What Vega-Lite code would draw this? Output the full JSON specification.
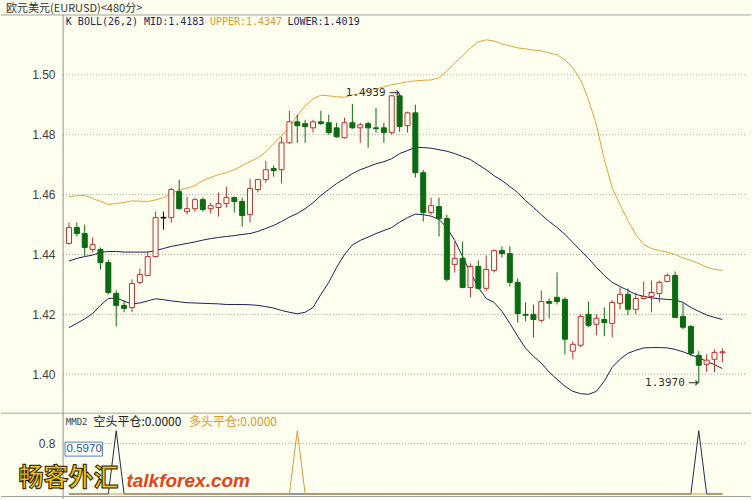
{
  "$schema": "https://vega.github.io/schema/vega-lite/v6.json",
  "width": 752,
  "height": 500,
  "autosize": {"type": "fit", "contains": "padding"},
  "padding": 0,
  "background": "#fffff0",
  "config": {
    "view": {"stroke": null},
    "axis": {
      "labelFont": "Liberation Sans",
      "labelFontSize": 12,
      "labelColor": "#404040",
      "ticks": false,
      "domain": false,
      "grid": false,
      "title": null,
      "offset": -58,
      "minExtent": 0,
      "maxExtent": 0,
      "labelPadding": 4
    }
  },
  "datasets": {
    "k": [
      {"i":0,"o":1.4437,"h":1.4507,"l":1.4433,"c":1.4490,"d":"up","up":1.4594,"mid":1.4378,"lo":1.4156,"s":0,"b":0},
      {"i":1,"o":1.4490,"h":1.4507,"l":1.4460,"c":1.4470,"d":"down","up":1.4596,"mid":1.4387,"lo":1.4170,"s":0,"b":0},
      {"i":2,"o":1.4470,"h":1.4500,"l":1.4393,"c":1.4423,"d":"down","up":1.4597,"mid":1.4393,"lo":1.4185,"s":0,"b":0},
      {"i":3,"o":1.4417,"h":1.4457,"l":1.4407,"c":1.4433,"d":"up","up":1.4587,"mid":1.4398,"lo":1.4203,"s":0,"b":0},
      {"i":4,"o":1.4417,"h":1.4423,"l":1.4350,"c":1.4373,"d":"down","up":1.4577,"mid":1.4407,"lo":1.4230,"s":0,"b":0},
      {"i":5,"o":1.4373,"h":1.4383,"l":1.4267,"c":1.4273,"d":"down","up":1.4567,"mid":1.4410,"lo":1.4253,"s":0,"b":0},
      {"i":6,"o":1.4270,"h":1.4280,"l":1.4160,"c":1.4230,"d":"down","up":1.4570,"mid":1.4410,"lo":1.4255,"s":1,"b":0},
      {"i":7,"o":1.4230,"h":1.4247,"l":1.4207,"c":1.4220,"d":"down","up":1.4574,"mid":1.4408,"lo":1.4244,"s":0,"b":0},
      {"i":8,"o":1.4223,"h":1.4317,"l":1.4207,"c":1.4303,"d":"up","up":1.4579,"mid":1.4408,"lo":1.4235,"s":0,"b":0},
      {"i":9,"o":1.4307,"h":1.4353,"l":1.4300,"c":1.4333,"d":"up","up":1.4578,"mid":1.4408,"lo":1.4238,"s":0,"b":0},
      {"i":10,"o":1.4330,"h":1.4410,"l":1.4327,"c":1.4393,"d":"up","up":1.4577,"mid":1.4408,"lo":1.4245,"s":0,"b":0},
      {"i":11,"o":1.4393,"h":1.4543,"l":1.4390,"c":1.4523,"d":"up","up":1.4582,"mid":1.4413,"lo":1.4252,"s":0,"b":0},
      {"i":12,"o":1.4524,"h":1.4543,"l":1.4483,"c":1.4522,"d":"flat","up":1.4590,"mid":1.4420,"lo":1.4249,"s":0,"b":0},
      {"i":13,"o":1.4523,"h":1.4623,"l":1.4507,"c":1.4617,"d":"up","up":1.4605,"mid":1.4427,"lo":1.4245,"s":0,"b":0},
      {"i":14,"o":1.4610,"h":1.4650,"l":1.4550,"c":1.4553,"d":"down","up":1.4615,"mid":1.4432,"lo":1.4242,"s":0,"b":0},
      {"i":15,"o":1.4543,"h":1.4593,"l":1.4533,"c":1.4553,"d":"up","up":1.4622,"mid":1.4437,"lo":1.4239,"s":0,"b":0},
      {"i":16,"o":1.4553,"h":1.4590,"l":1.4543,"c":1.4583,"d":"up","up":1.4630,"mid":1.4442,"lo":1.4238,"s":0,"b":0},
      {"i":17,"o":1.4583,"h":1.4590,"l":1.4543,"c":1.4550,"d":"down","up":1.4647,"mid":1.4448,"lo":1.4237,"s":0,"b":0},
      {"i":18,"o":1.4553,"h":1.4573,"l":1.4537,"c":1.4563,"d":"up","up":1.4657,"mid":1.4453,"lo":1.4236,"s":0,"b":0},
      {"i":19,"o":1.4557,"h":1.4607,"l":1.4527,"c":1.4570,"d":"up","up":1.4667,"mid":1.4457,"lo":1.4235,"s":0,"b":0},
      {"i":20,"o":1.4570,"h":1.4627,"l":1.4557,"c":1.4590,"d":"up","up":1.4673,"mid":1.4460,"lo":1.4233,"s":0,"b":0},
      {"i":21,"o":1.4590,"h":1.4593,"l":1.4540,"c":1.4577,"d":"down","up":1.4683,"mid":1.4463,"lo":1.4233,"s":0,"b":0},
      {"i":22,"o":1.4577,"h":1.4590,"l":1.4493,"c":1.4530,"d":"down","up":1.4697,"mid":1.4467,"lo":1.4233,"s":0,"b":0},
      {"i":23,"o":1.4533,"h":1.4653,"l":1.4507,"c":1.4620,"d":"up","up":1.4710,"mid":1.4470,"lo":1.4232,"s":0,"b":0},
      {"i":24,"o":1.4617,"h":1.4653,"l":1.4607,"c":1.4650,"d":"up","up":1.4723,"mid":1.4477,"lo":1.4230,"s":0,"b":0},
      {"i":25,"o":1.4650,"h":1.4713,"l":1.4640,"c":1.4683,"d":"up","up":1.4743,"mid":1.4487,"lo":1.4226,"s":0,"b":0},
      {"i":26,"o":1.4687,"h":1.4697,"l":1.4660,"c":1.4680,"d":"down","up":1.4770,"mid":1.4497,"lo":1.4221,"s":0,"b":0},
      {"i":27,"o":1.4683,"h":1.4793,"l":1.4637,"c":1.4773,"d":"up","up":1.4797,"mid":1.4510,"lo":1.4213,"s":0,"b":0},
      {"i":28,"o":1.4773,"h":1.4880,"l":1.4770,"c":1.4843,"d":"up","up":1.4827,"mid":1.4525,"lo":1.4207,"s":0,"b":0},
      {"i":29,"o":1.4843,"h":1.4867,"l":1.4773,"c":1.4830,"d":"down","up":1.4863,"mid":1.4537,"lo":1.4202,"s":0,"b":1},
      {"i":30,"o":1.4837,"h":1.4850,"l":1.4773,"c":1.4827,"d":"down","up":1.4897,"mid":1.4553,"lo":1.4207,"s":0,"b":0},
      {"i":31,"o":1.4823,"h":1.4850,"l":1.4807,"c":1.4843,"d":"up","up":1.4920,"mid":1.4573,"lo":1.4223,"s":0,"b":0},
      {"i":32,"o":1.4843,"h":1.4880,"l":1.4833,"c":1.4837,"d":"down","up":1.4932,"mid":1.4597,"lo":1.4267,"s":0,"b":0},
      {"i":33,"o":1.4840,"h":1.4867,"l":1.4800,"c":1.4807,"d":"down","up":1.4930,"mid":1.4617,"lo":1.4307,"s":0,"b":0},
      {"i":34,"o":1.4823,"h":1.4840,"l":1.4790,"c":1.4793,"d":"down","up":1.4927,"mid":1.4637,"lo":1.4357,"s":0,"b":0},
      {"i":35,"o":1.4790,"h":1.4857,"l":1.4787,"c":1.4840,"d":"up","up":1.4925,"mid":1.4653,"lo":1.4400,"s":0,"b":0},
      {"i":36,"o":1.4840,"h":1.4903,"l":1.4820,"c":1.4823,"d":"down","up":1.4933,"mid":1.4670,"lo":1.4432,"s":0,"b":0},
      {"i":37,"o":1.4823,"h":1.4840,"l":1.4773,"c":1.4833,"d":"up","up":1.4937,"mid":1.4683,"lo":1.4447,"s":0,"b":0},
      {"i":38,"o":1.4837,"h":1.4843,"l":1.4757,"c":1.4823,"d":"down","up":1.4947,"mid":1.4693,"lo":1.4458,"s":0,"b":0},
      {"i":39,"o":1.4823,"h":1.4890,"l":1.4807,"c":1.4820,"d":"down","up":1.4953,"mid":1.4703,"lo":1.4470,"s":0,"b":0},
      {"i":40,"o":1.4823,"h":1.4840,"l":1.4773,"c":1.4807,"d":"down","up":1.4960,"mid":1.4710,"lo":1.4480,"s":0,"b":0},
      {"i":41,"o":1.4807,"h":1.4933,"l":1.4800,"c":1.4930,"d":"up","up":1.4967,"mid":1.4720,"lo":1.4490,"s":0,"b":0},
      {"i":42,"o":1.4930,"h":1.4939,"l":1.4810,"c":1.4827,"d":"down","up":1.4972,"mid":1.4737,"lo":1.4508,"s":0,"b":0},
      {"i":43,"o":1.4830,"h":1.4877,"l":1.4807,"c":1.4873,"d":"up","up":1.4977,"mid":1.4747,"lo":1.4523,"s":0,"b":0},
      {"i":44,"o":1.4873,"h":1.4900,"l":1.4657,"c":1.4673,"d":"down","up":1.4980,"mid":1.4758,"lo":1.4535,"s":0,"b":0},
      {"i":45,"o":1.4673,"h":1.4683,"l":1.4510,"c":1.4540,"d":"down","up":1.4982,"mid":1.4757,"lo":1.4533,"s":0,"b":0},
      {"i":46,"o":1.4540,"h":1.4590,"l":1.4533,"c":1.4563,"d":"up","up":1.4983,"mid":1.4755,"lo":1.4528,"s":0,"b":0},
      {"i":47,"o":1.4560,"h":1.4590,"l":1.4460,"c":1.4520,"d":"down","up":1.4990,"mid":1.4750,"lo":1.4517,"s":0,"b":0},
      {"i":48,"o":1.4520,"h":1.4533,"l":1.4310,"c":1.4317,"d":"down","up":1.5013,"mid":1.4745,"lo":1.4490,"s":0,"b":0},
      {"i":49,"o":1.4367,"h":1.4443,"l":1.4340,"c":1.4387,"d":"up","up":1.5040,"mid":1.4737,"lo":1.4447,"s":0,"b":0},
      {"i":50,"o":1.4387,"h":1.4443,"l":1.4287,"c":1.4290,"d":"down","up":1.5063,"mid":1.4727,"lo":1.4393,"s":0,"b":0},
      {"i":51,"o":1.4290,"h":1.4370,"l":1.4257,"c":1.4360,"d":"up","up":1.5090,"mid":1.4717,"lo":1.4340,"s":0,"b":0},
      {"i":52,"o":1.4360,"h":1.4380,"l":1.4283,"c":1.4287,"d":"down","up":1.5110,"mid":1.4700,"lo":1.4290,"s":0,"b":0},
      {"i":53,"o":1.4287,"h":1.4397,"l":1.4277,"c":1.4350,"d":"up","up":1.5117,"mid":1.4683,"lo":1.4253,"s":0,"b":0},
      {"i":54,"o":1.4347,"h":1.4417,"l":1.4340,"c":1.4413,"d":"up","up":1.5113,"mid":1.4663,"lo":1.4240,"s":0,"b":0},
      {"i":55,"o":1.4413,"h":1.4427,"l":1.4390,"c":1.4403,"d":"down","up":1.5103,"mid":1.4647,"lo":1.4210,"s":0,"b":0},
      {"i":56,"o":1.4403,"h":1.4427,"l":1.4293,"c":1.4307,"d":"down","up":1.5097,"mid":1.4627,"lo":1.4170,"s":0,"b":0},
      {"i":57,"o":1.4307,"h":1.4320,"l":1.4173,"c":1.4203,"d":"down","up":1.5090,"mid":1.4607,"lo":1.4127,"s":0,"b":0},
      {"i":58,"o":1.4200,"h":1.4240,"l":1.4177,"c":1.4197,"d":"down","up":1.5087,"mid":1.4580,"lo":1.4087,"s":0,"b":0},
      {"i":59,"o":1.4200,"h":1.4233,"l":1.4123,"c":1.4183,"d":"down","up":1.5083,"mid":1.4557,"lo":1.4060,"s":0,"b":0},
      {"i":60,"o":1.4180,"h":1.4280,"l":1.4173,"c":1.4243,"d":"up","up":1.5080,"mid":1.4533,"lo":1.4037,"s":0,"b":0},
      {"i":61,"o":1.4243,"h":1.4253,"l":1.4187,"c":1.4237,"d":"down","up":1.5073,"mid":1.4510,"lo":1.4007,"s":0,"b":0},
      {"i":62,"o":1.4257,"h":1.4340,"l":1.4233,"c":1.4243,"d":"down","up":1.5067,"mid":1.4490,"lo":1.3983,"s":0,"b":0},
      {"i":63,"o":1.4250,"h":1.4257,"l":1.4067,"c":1.4117,"d":"down","up":1.5050,"mid":1.4467,"lo":1.3960,"s":0,"b":0},
      {"i":64,"o":1.4077,"h":1.4110,"l":1.4050,"c":1.4100,"d":"up","up":1.5023,"mid":1.4440,"lo":1.3943,"s":0,"b":0},
      {"i":65,"o":1.4097,"h":1.4200,"l":1.4090,"c":1.4193,"d":"up","up":1.4983,"mid":1.4413,"lo":1.3935,"s":0,"b":0},
      {"i":66,"o":1.4200,"h":1.4243,"l":1.4157,"c":1.4163,"d":"down","up":1.4917,"mid":1.4387,"lo":1.3933,"s":0,"b":0},
      {"i":67,"o":1.4167,"h":1.4200,"l":1.4130,"c":1.4187,"d":"up","up":1.4833,"mid":1.4357,"lo":1.3943,"s":0,"b":0},
      {"i":68,"o":1.4183,"h":1.4223,"l":1.4127,"c":1.4173,"d":"down","up":1.4717,"mid":1.4330,"lo":1.3977,"s":0,"b":0},
      {"i":69,"o":1.4170,"h":1.4247,"l":1.4123,"c":1.4240,"d":"up","up":1.4623,"mid":1.4307,"lo":1.4023,"s":0,"b":0},
      {"i":70,"o":1.4237,"h":1.4290,"l":1.4217,"c":1.4267,"d":"up","up":1.4567,"mid":1.4293,"lo":1.4050,"s":0,"b":0},
      {"i":71,"o":1.4267,"h":1.4287,"l":1.4197,"c":1.4217,"d":"down","up":1.4513,"mid":1.4280,"lo":1.4070,"s":0,"b":0},
      {"i":72,"o":1.4217,"h":1.4273,"l":1.4200,"c":1.4253,"d":"up","up":1.4467,"mid":1.4267,"lo":1.4080,"s":0,"b":0},
      {"i":73,"o":1.4253,"h":1.4310,"l":1.4250,"c":1.4260,"d":"up","up":1.4433,"mid":1.4260,"lo":1.4088,"s":0,"b":0},
      {"i":74,"o":1.4260,"h":1.4313,"l":1.4207,"c":1.4273,"d":"up","up":1.4420,"mid":1.4255,"lo":1.4089,"s":0,"b":0},
      {"i":75,"o":1.4270,"h":1.4313,"l":1.4240,"c":1.4307,"d":"up","up":1.4413,"mid":1.4252,"lo":1.4089,"s":0,"b":0},
      {"i":76,"o":1.4310,"h":1.4337,"l":1.4307,"c":1.4330,"d":"up","up":1.4408,"mid":1.4250,"lo":1.4088,"s":0,"b":0},
      {"i":77,"o":1.4330,"h":1.4343,"l":1.4187,"c":1.4190,"d":"down","up":1.4400,"mid":1.4248,"lo":1.4083,"s":0,"b":0},
      {"i":78,"o":1.4193,"h":1.4237,"l":1.4150,"c":1.4157,"d":"down","up":1.4388,"mid":1.4240,"lo":1.4075,"s":0,"b":0},
      {"i":79,"o":1.4160,"h":1.4163,"l":1.4060,"c":1.4070,"d":"down","up":1.4380,"mid":1.4223,"lo":1.4065,"s":0,"b":0},
      {"i":80,"o":1.4063,"h":1.4077,"l":1.3970,"c":1.4030,"d":"down","up":1.4370,"mid":1.4210,"lo":1.4055,"s":1,"b":0},
      {"i":81,"o":1.4033,"h":1.4067,"l":1.4007,"c":1.4047,"d":"up","up":1.4358,"mid":1.4198,"lo":1.4043,"s":0,"b":0},
      {"i":82,"o":1.4050,"h":1.4083,"l":1.4007,"c":1.4073,"d":"up","up":1.4350,"mid":1.4190,"lo":1.4032,"s":0,"b":0},
      {"i":83,"o":1.4072,"h":1.4087,"l":1.4040,"c":1.4075,"d":"up","up":1.4347,"mid":1.4183,"lo":1.4019,"s":0,"b":0}
    ],
    "gp": [{"v":1.40},{"v":1.42},{"v":1.44},{"v":1.46},{"v":1.48},{"v":1.50}],
    "gl": [{"v":0.8}],
    "one": [{}]
  },
  "resolve": {"scale": {"y": "independent"}},
  "layer": [
    {
      "layer": [
        {
          "data": {"name": "gp"},
          "mark": {"type": "rule", "color": "#a8a8a0", "strokeDash": [1, 2], "strokeWidth": 1},
          "encoding": {
            "x": {"datum": -0.75, "type": "quantitative", "scale": {"domain": [-8, 86], "nice": false, "zero": false}, "axis": null},
            "x2": {"datum": 86},
            "y": {"field": "v", "type": "quantitative", "scale": {"domain": [1.358333, 1.525], "nice": false, "zero": false},
                  "axis": {"values": [1.40, 1.42, 1.44, 1.46, 1.48, 1.50], "format": ".2f", "orient": "left"}}
          }
        },
        {
          "data": {"name": "one"},
          "mark": {"type": "rule", "color": "#a0a0a0", "strokeWidth": 1},
          "encoding": {"y": {"datum": 1.52, "type": "quantitative"}}
        },
        {
          "data": {"name": "one"},
          "mark": {"type": "rule", "color": "#a0a0a0", "strokeWidth": 1},
          "encoding": {"y": {"datum": 1.3870, "type": "quantitative"}}
        },
        {
          "data": {"name": "one"},
          "mark": {"type": "rule", "color": "#909090", "strokeWidth": 1},
          "encoding": {
            "x": {"datum": -0.75, "type": "quantitative"},
            "y": {"datum": 1.52, "type": "quantitative"},
            "y2": {"datum": 1.358333}
          }
        },
        {
          "data": {"name": "k"},
          "mark": {"type": "line", "color": "#e0a23c", "strokeWidth": 1},
          "encoding": {"x": {"field": "i", "type": "quantitative"}, "y": {"field": "up", "type": "quantitative"}}
        },
        {
          "data": {"name": "k"},
          "mark": {"type": "line", "color": "#1e1e5a", "strokeWidth": 1},
          "encoding": {"x": {"field": "i", "type": "quantitative"}, "y": {"field": "mid", "type": "quantitative"}}
        },
        {
          "data": {"name": "k"},
          "mark": {"type": "line", "color": "#1e1e5a", "strokeWidth": 1},
          "encoding": {"x": {"field": "i", "type": "quantitative"}, "y": {"field": "lo", "type": "quantitative"}}
        },
        {
          "data": {"name": "k"},
          "mark": {"type": "rule", "strokeWidth": 1},
          "encoding": {
            "x": {"field": "i", "type": "quantitative"},
            "y": {"field": "l", "type": "quantitative"},
            "y2": {"field": "h"},
            "stroke": {"field": "d", "type": "nominal", "scale": {"domain": ["up", "down", "flat"], "range": ["#b83232", "#0b6a12", "#000000"]}, "legend": null}
          }
        },
        {
          "data": {"name": "k"},
          "mark": {"type": "bar", "width": 5, "strokeWidth": 1},
          "encoding": {
            "x": {"field": "i", "type": "quantitative"},
            "y": {"field": "o", "type": "quantitative"},
            "y2": {"field": "c"},
            "fill": {"field": "d", "type": "nominal", "scale": {"domain": ["up", "down", "flat"], "range": ["#fffff0", "#0b6a12", "#000000"]}, "legend": null},
            "stroke": {"field": "d", "type": "nominal", "legend": null}
          }
        },
        {
          "data": {"name": "k"},
          "transform": [{"filter": "datum.i == 42"}],
          "mark": {"type": "text", "align": "right", "baseline": "middle", "dx": -14, "font": "DejaVu Sans Mono", "fontSize": 11, "color": "#303030"},
          "encoding": {"x": {"field": "i", "type": "quantitative"}, "y": {"field": "h", "type": "quantitative"}, "text": {"field": "h", "format": ".4f"}}
        },
        {
          "data": {"name": "k"},
          "transform": [{"filter": "datum.i == 42"}],
          "mark": {"type": "text", "align": "right", "baseline": "middle", "dx": 0, "font": "DejaVu Sans", "fontSize": 13, "color": "#303030", "text": "→"},
          "encoding": {"x": {"field": "i", "type": "quantitative"}, "y": {"field": "h", "type": "quantitative"}}
        },
        {
          "data": {"name": "k"},
          "transform": [{"filter": "datum.i == 80"}],
          "mark": {"type": "text", "align": "right", "baseline": "middle", "dx": -14, "font": "DejaVu Sans Mono", "fontSize": 11, "color": "#303030"},
          "encoding": {"x": {"field": "i", "type": "quantitative"}, "y": {"field": "l", "type": "quantitative"}, "text": {"field": "l", "format": ".4f"}}
        },
        {
          "data": {"name": "k"},
          "transform": [{"filter": "datum.i == 80"}],
          "mark": {"type": "text", "align": "right", "baseline": "middle", "dx": 0, "font": "DejaVu Sans", "fontSize": 13, "color": "#303030", "text": "→"},
          "encoding": {"x": {"field": "i", "type": "quantitative"}, "y": {"field": "l", "type": "quantitative"}}
        },
        {
          "data": {"name": "one"},
          "mark": {"type": "text", "align": "left", "baseline": "middle", "font": "Noto Sans CJK SC", "fontSize": 11, "color": "#303030", "text": "欧元美元(EURUSD)<480分>"},
          "encoding": {"x": {"datum": -8, "type": "quantitative"}, "y": {"datum": 1.52205, "type": "quantitative"}}
        },
        {
          "data": {"name": "one"},
          "mark": {"type": "text", "align": "left", "baseline": "middle", "font": "DejaVu Sans Mono", "fontSize": 10, "color": "#1e1e5a", "text": "K  BOLL(26,2) MID:1.4183"},
          "encoding": {"x": {"datum": -0.4, "type": "quantitative"}, "y": {"datum": 1.517667, "type": "quantitative"}}
        },
        {
          "data": {"name": "one"},
          "mark": {"type": "text", "align": "left", "baseline": "middle", "font": "DejaVu Sans Mono", "fontSize": 10, "color": "#d8982c", "text": "UPPER:1.4347"},
          "encoding": {"x": {"datum": 17.9, "type": "quantitative"}, "y": {"datum": 1.517667, "type": "quantitative"}}
        },
        {
          "data": {"name": "one"},
          "mark": {"type": "text", "align": "left", "baseline": "middle", "font": "DejaVu Sans Mono", "fontSize": 10, "color": "#1e1e5a", "text": "LOWER:1.4019"},
          "encoding": {"x": {"datum": 27.75, "type": "quantitative"}, "y": {"datum": 1.517667, "type": "quantitative"}}
        }
      ]
    },
    {
      "layer": [
        {
          "data": {"name": "gl"},
          "mark": {"type": "rule", "color": "#a8a8a0", "strokeDash": [1, 2], "strokeWidth": 1},
          "encoding": {
            "x": {"datum": -0.75, "type": "quantitative"},
            "x2": {"datum": 86},
            "y": {"field": "v", "type": "quantitative", "scale": {"domain": [-0.0789, 7.8076], "nice": false, "zero": false},
                  "axis": {"values": [0.8], "format": ".1f", "orient": "left"}}
          }
        },
        {
          "data": {"name": "one"},
          "mark": {"type": "rule", "color": "#a0a0a0", "strokeWidth": 1},
          "encoding": {"y": {"datum": -0.04, "type": "quantitative"}}
        },
        {
          "data": {"name": "k"},
          "mark": {"type": "line", "color": "#1e2a4a", "strokeWidth": 1},
          "encoding": {"x": {"field": "i", "type": "quantitative"}, "y": {"field": "s", "type": "quantitative"}}
        },
        {
          "data": {"name": "k"},
          "mark": {"type": "line", "color": "#d89a3a", "strokeWidth": 1},
          "encoding": {"x": {"field": "i", "type": "quantitative"}, "y": {"field": "b", "type": "quantitative"}}
        },
        {
          "data": {"name": "one"},
          "mark": {"type": "text", "align": "left", "baseline": "middle", "font": "DejaVu Sans Mono", "fontSize": 9, "color": "#404040", "text": "MMD2"},
          "encoding": {"x": {"datum": -0.4, "type": "quantitative"}, "y": {"datum": 1.1356, "type": "quantitative"}}
        },
        {
          "data": {"name": "one"},
          "mark": {"type": "text", "align": "left", "baseline": "middle", "font": "Noto Sans CJK SC", "fontSize": 12, "color": "#202020", "text": "空头平仓:0.0000"},
          "encoding": {"x": {"datum": 3.1, "type": "quantitative"}, "y": {"datum": 1.1356, "type": "quantitative"}}
        },
        {
          "data": {"name": "one"},
          "mark": {"type": "text", "align": "left", "baseline": "middle", "font": "Noto Sans CJK SC", "fontSize": 12, "color": "#d8982c", "text": "多头平仓:0.0000"},
          "encoding": {"x": {"datum": 15.25, "type": "quantitative"}, "y": {"datum": 1.1356, "type": "quantitative"}}
        },
        {
          "data": {"name": "one"},
          "mark": {"type": "rect", "fill": "#fffff8", "stroke": "#4a7fc0", "strokeWidth": 1},
          "encoding": {
            "x": {"datum": -0.5, "type": "quantitative"},
            "x2": {"datum": 4.25},
            "y": {"datum": 0.599, "type": "quantitative"},
            "y2": {"datum": 0.82}
          }
        },
        {
          "data": {"name": "one"},
          "mark": {"type": "text", "align": "left", "baseline": "middle", "font": "Liberation Sans", "fontSize": 11.5, "color": "#1f4f9a", "text": "0.5970"},
          "encoding": {"x": {"datum": -0.3, "type": "quantitative"}, "y": {"datum": 0.71, "type": "quantitative"}}
        },
        {
          "data": {"name": "one"},
          "mark": {"type": "text", "align": "left", "baseline": "middle", "font": "Noto Sans CJK SC", "fontWeight": "bold", "fontSize": 25, "fill": "#f2c21c", "stroke": "#2a2000", "strokeWidth": 1, "text": "畅客外汇"},
          "encoding": {"x": {"datum": -6.4, "type": "quantitative"}, "y": {"datum": 0.26, "type": "quantitative"}}
        },
        {
          "data": {"name": "one"},
          "mark": {"type": "text", "align": "left", "baseline": "middle", "font": "Liberation Sans", "fontStyle": "italic", "fontWeight": "bold", "fontSize": 19, "color": "#e2441a", "text": "talkforex.com"},
          "encoding": {"x": {"datum": 7.3, "type": "quantitative"}, "y": {"datum": 0.2, "type": "quantitative"}}
        }
      ]
    }
  ]
}
